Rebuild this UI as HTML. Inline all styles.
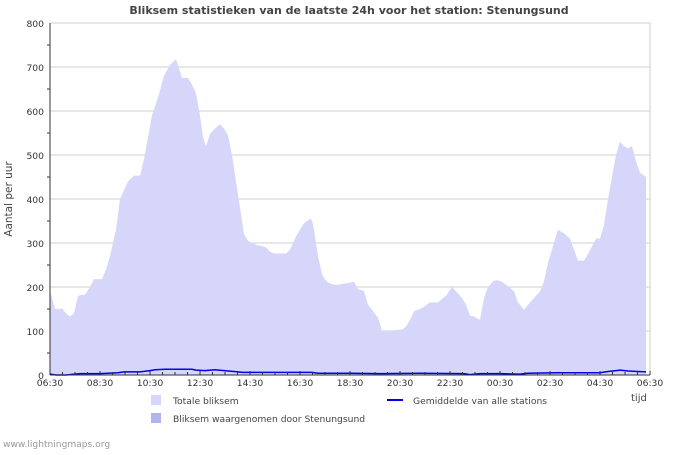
<!DOCTYPE html>
<html><head><meta charset="utf-8"><style>
body{margin:0;background:#fff;font-family:"Liberation Sans","DejaVu Sans",sans-serif;}
svg text{font-family:"DejaVu Sans","Liberation Sans",sans-serif;}
</style></head><body>
<svg id="c" width="700" height="450" xmlns="http://www.w3.org/2000/svg">
<text x="349" y="14" text-anchor="middle" font-size="11" font-weight="bold" fill="#444">Bliksem statistieken van de laatste 24h voor het station: Stenungsund</text>
<text transform="translate(12,199) rotate(-90)" text-anchor="middle" font-size="10.5" fill="#444">Aantal per uur</text>
<text x="631" y="401" font-size="10" fill="#444">tijd</text>
<g id="grid"></g><g id="marks"></g><g id="axes"></g>
<rect x="151" y="395" width="10" height="10" fill="#d6d6fa"/>
<text x="173" y="404" font-size="9.2" fill="#444">Totale bliksem</text>
<rect x="151" y="413" width="10" height="10" fill="#b3b3f0"/>
<text x="173" y="422" font-size="9.2" fill="#444">Bliksem waargenomen door Stenungsund</text>
<line x1="387" y1="400" x2="403" y2="400" stroke="#0000ee" stroke-width="2"/>
<text x="413" y="404" font-size="9.2" fill="#444">Gemiddelde van alle stations</text>
<text x="3" y="447" font-size="9.1" fill="#999">www.lightningmaps.org</text>
</svg>
<script>
const totalHours=[0,.08,.2,.4,.48,.64,.8,.96,1.12,1.28,1.4,1.6,1.76,2.08,2.24,2.4,2.64,2.8,2.96,3.12,3.36,3.6,3.76,3.92,4.08,4.32,4.56,4.8,5.04,5.2,5.28,5.52,5.68,5.84,6,6.12,6.24,6.4,6.56,6.8,6.96,7.12,7.28,7.44,7.6,7.76,7.92,8.08,8.24,8.48,8.64,8.8,8.96,9.28,9.44,9.6,9.84,10,10.16,10.4,10.48,10.56,10.72,10.88,10.96,11.12,11.36,11.52,11.76,12,12.16,12.32,12.48,12.56,12.72,12.88,13.12,13.28,13.6,13.76,14.08,14.24,14.4,14.56,14.8,14.96,15.2,15.36,15.52,15.84,16.08,16.24,16.48,16.64,16.8,16.96,17.2,17.36,17.52,17.76,17.92,18.08,18.4,18.56,18.72,18.96,19.2,19.44,19.6,19.76,19.92,20.16,20.32,20.56,20.8,20.96,21.12,21.36,21.52,21.84,22,22.16,22.32,22.48,22.64,22.8,22.96,23.12,23.28,23.44,23.6,23.84];
const totalValues=[190,175,150,150,152,140,133,140,180,182,182,200,218,218,240,270,330,400,420,440,453,453,490,540,590,630,680,705,718,690,675,675,660,640,590,540,520,548,558,570,560,545,500,440,380,320,305,300,296,293,290,280,276,276,276,285,315,330,345,355,352,330,270,230,220,210,205,205,208,210,212,195,193,190,160,148,130,100,100,102,103,110,125,145,150,155,165,165,165,180,200,190,175,160,135,133,125,175,200,215,215,212,198,190,165,148,165,180,190,213,255,300,330,322,310,285,260,260,275,310,310,340,400,450,500,530,520,515,520,485,460,450];
const avgHours=[0,.24,.64,1.2,2,2.72,2.96,3.6,4,4.2,4.6,5.68,5.84,6.2,6.6,6.96,7.36,7.72,9.2,10.48,10.72,12,13.2,14.8,16.56,16.8,17.2,18,18.8,19.12,20.24,22,22.32,22.64,22.8,23.12,23.84];
const avgValues=[2,0,0,3,3,5,7,7,10,12,13,13,11,10,12,10,8,6,6,6,4,4,3,4,3,1,3,3,2,4,5,5,8,10,11,9,7];
const stationValues=[0,0];
const stationHours=[0,23.84];
const yTicks=[0,100,200,300,400,500,600,700,800];
const xTickLabels=["06:30","08:30","10:30","12:30","14:30","16:30","18:30","20:30","22:30","00:30","02:30","04:30","06:30"];

const NS="http://www.w3.org/2000/svg";
const X0=50,X1=650,Y0=375,Y1=23;
const xs=h=>X0+h*(X1-X0)/24;
const ys=v=>Y0-v*(Y0-Y1)/800;
function mk(tag,attrs,parent){const e=document.createElementNS(NS,tag);for(const k in attrs)e.setAttribute(k,attrs[k]);document.getElementById(parent).appendChild(e);return e;}
yTicks.forEach(v=>{
  const g=mk('line',{x1:X0,x2:X1,y1:ys(v),y2:ys(v),stroke:'#cfcfcf','stroke-width':1},'grid');
  
  
  const t=mk('text',{x:44,y:ys(v)+4,'text-anchor':'end','font-size':'9.2',fill:'#333'},'axes');
  t.textContent=v;
  
  
});
for(let v=50;v<800;v+=100){
  const m=mk('line',{x1:X0-3,x2:X0,y1:ys(v),y2:ys(v),stroke:'#333'},'axes');
  
  
}
const fr=mk('polyline',{points:`${X0},${Y0} ${X0},${Y1} ${X1},${Y1} ${X1},${Y0}`,fill:'none',stroke:'#cfcfcf'},'grid');


let pts=`${xs(totalHours[0])},${ys(0)} `+totalHours.map((h,i)=>`${xs(h)},${ys(totalValues[i])}`).join(' ')+` ${xs(totalHours[totalHours.length-1])},${ys(0)}`;
const area=mk('polygon',{points:pts,fill:'#d6d6fa'},'marks');


const st=mk('polyline',{points:stationHours.map((h,i)=>`${xs(h)},${ys(stationValues[i])}`).join(' '),fill:'none',stroke:'#b3b3f0'},'marks');


const av=mk('polyline',{points:avgHours.map((h,i)=>`${xs(h)},${ys(avgValues[i])}`).join(' '),fill:'none',stroke:'#0000ee','stroke-width':1.5},'marks');


const ax=mk('line',{x1:X0,x2:X1,y1:Y0,y2:Y0,stroke:'#333'},'axes');


const ay=mk('line',{x1:X0,x2:X0,y1:Y0,y2:Y1,stroke:'#333'},'axes');


for(let k=0;k<=48;k++){
  const h=k/2,major=k%4===0;
  const t=mk('line',{x1:xs(h),x2:xs(h),y1:Y0,y2:Y0-(major?4:3),stroke:'#333'},'axes');
  
  
}
xTickLabels.forEach((l,i)=>{
  const t=mk('text',{x:xs(i*2),y:386,'text-anchor':'middle','font-size':'9.2',fill:'#333'},'axes');
  t.textContent=l;
  
  
});
</script>
</body></html>
